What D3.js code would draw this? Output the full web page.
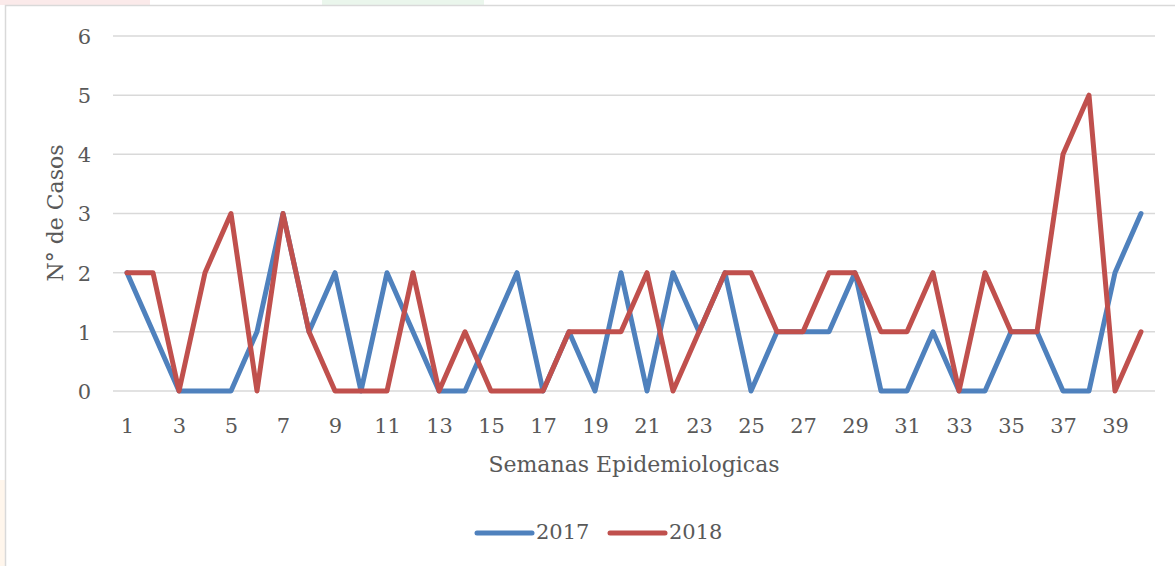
<!DOCTYPE html>
<html>
<head>
<meta charset="utf-8">
<script src="https://cdn.jsdelivr.net/npm/d3@7"></script>
<style>
  body { margin: 0; background: #fff; }
  svg { display: block; }
  text { font-family: "DejaVu Serif", "Liberation Serif", serif; fill: #595959; }
</style>
</head>
<body>
<div id="chart"></div>
<script>
// data
const weeks = d3.range(1, 41);
const cases2017 = [2,1,0,0,0,1,3,1,2,0, 2,1,0,0,1,2,0,1,0,2, 0,2,1,2,0,1,1,1,2,0, 0,1,0,0,1,1,0,0,2,3];
const cases2018 = [2,2,0,2,3,0,3,1,0,0, 0,2,0,1,0,0,0,1,1,1, 2,0,1,2,2,1,1,2,2,1, 1,2,0,2,1,1,4,5,0,1];
const seriesNames = ['2017', '2018'];
const yTicks = [0, 1, 2, 3, 4, 5, 6];
const xTickWeeks = weeks.filter(w => w % 2 === 1);

const W = 1175, H = 566;
const colors = {'2017': '#4f81bd', '2018': '#c0504d'};

const svg = d3.select('#chart').append('svg')
    .attr('width', W)
    .attr('height', H);

// faint page bits behind the chart frame
svg.append('rect').attr('x', 0).attr('y', 0).attr('width', 150).attr('height', 5).attr('fill', '#fbeaea');
svg.append('rect').attr('x', 322).attr('y', 0).attr('width', 162).attr('height', 5).attr('fill', '#eaf6ec');
svg.append('rect').attr('x', 0).attr('y', 480).attr('width', 5).attr('height', 86).attr('fill', '#fff6ec');

// chart frame
svg.append('rect')
    .attr('x', 5.5).attr('y', 5.5)
    .attr('width', W + 10).attr('height', H + 10)
    .attr('fill', '#fff')
    .attr('stroke', '#d9d9d9')
    .attr('stroke-width', 1.5);

let x = d3.scaleLinear().domain([1, 40]).range([127, 1141]);
let y = d3.scaleLinear().domain([0, 6]).range([391, 36]);

// gridlines
svg.append('g')
    .selectAll('line')
    .data(yTicks)
    .enter().append('line')
        .attr('x1', 113)
        .attr('x2', 1155)
        .attr('y1', d => y(d))
        .attr('y2', d => y(d))
        .attr('stroke', '#d9d9d9')
        .attr('stroke-width', 1.5);

// y axis labels
let yAxis = d3.axisLeft(y).tickValues(yTicks).tickSize(0).tickPadding(0).tickFormat(d3.format('d'));
svg.append('g')
    .attr('transform', 'translate(91,0)')
    .call(yAxis)
    .call(g => g.select('.domain').remove())
    .selectAll('text')
        .style('font-family', '"DejaVu Serif", serif')
        .style('font-size', '21px')
        .attr('dy', '0.35em');

// x axis labels
let xAxis = d3.axisBottom(x).tickValues(xTickWeeks).tickSize(0).tickPadding(0).tickFormat(d3.format('d'));
svg.append('g')
    .attr('transform', 'translate(0,426)')
    .call(xAxis)
    .call(g => g.select('.domain').remove())
    .selectAll('text')
        .style('font-family', '"DejaVu Serif", serif')
        .style('font-size', '21px')
        .attr('y', 0)
        .attr('dy', '0.35em');

// axis titles
svg.append('text')
    .attr('x', 634)
    .attr('y', 466)
    .attr('text-anchor', 'middle')
    .attr('dominant-baseline', 'middle')
    .style('font-size', '22px')
    .text('Semanas Epidemiologicas');

svg.append('text')
    .attr('transform', 'translate(57,213) rotate(-90)')
    .attr('text-anchor', 'middle')
    .attr('dominant-baseline', 'middle')
    .style('font-size', '22px')
    .text('N° de Casos');

// series lines
const series = [
    {name: '2017', values: cases2017},
    {name: '2018', values: cases2018}
];
let line = d3.line()
    .x((d, i) => x(weeks[i]))
    .y(d => y(d));

svg.selectAll('path.series')
    .data(series)
    .enter().append('path')
        .attr('class', 'series')
        .attr('d', d => line(d.values))
        .attr('fill', 'none')
        .attr('stroke', d => colors[d.name])
        .attr('stroke-width', 5)
        .attr('stroke-linejoin', 'round')
        .attr('stroke-linecap', 'round');

// legend
const legendX = [477, 610];
let legend = svg.append('g');
seriesNames.forEach((name, i) => {
    let g = legend.append('g').attr('transform', 'translate(' + legendX[i] + ',533)');
    g.append('line')
        .attr('x1', 0).attr('x2', 55)
        .attr('y1', 0).attr('y2', 0)
        .attr('stroke', colors[name])
        .attr('stroke-width', 5)
        .attr('stroke-linecap', 'round');
    g.append('text')
        .attr('x', 59)
        .attr('y', 0)
        .attr('dominant-baseline', 'middle')
        .style('font-size', '21px')
        .text(name);
});
</script>
</body>
</html>
